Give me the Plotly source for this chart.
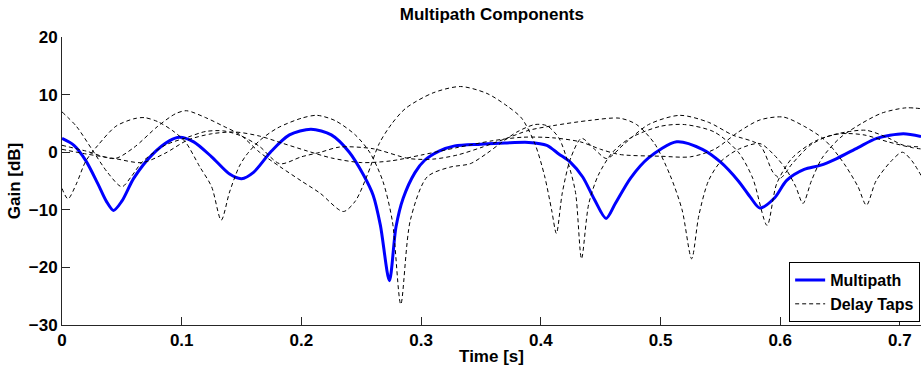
import plotly.graph_objects as go

# ---- Data ----
mp_t = [0, 0.01, 0.02, 0.03, 0.037, 0.043, 0.05, 0.06, 0.075, 0.09, 0.098, 0.11, 0.125, 0.14, 0.15, 0.16,
        0.175, 0.19, 0.208, 0.225, 0.24, 0.252, 0.26, 0.266, 0.2735, 0.279, 0.285, 0.295, 0.303, 0.315, 0.328,
        0.35, 0.37, 0.39, 0.405, 0.415, 0.425, 0.435, 0.445, 0.4545, 0.462, 0.475, 0.49, 0.5135, 0.535, 0.55,
        0.565, 0.575, 0.583, 0.595, 0.6054, 0.62, 0.6333, 0.6472, 0.665, 0.6806, 0.7028, 0.7176]
mp_db = [2.4, 1.2, -1.5, -5.5, -8.5, -10.1, -8.5, -4.5, -0.5, 2.0, 2.6, 1.8, -0.8, -3.8, -4.6, -3.5,
         0.2, 3.0, 4.0, 3.0, 0.0, -4.0, -7.5, -12.7, -22.3, -13.0, -8.0, -3.5, -1.4, 0.2, 1.1,
         1.4, 1.6, 1.7, 1.2, -0.3, -1.8, -4.3, -8.3, -11.5, -9.0, -4.5, -1.0, 1.8, 0.5, -1.7,
         -5.0, -7.8, -9.7, -8.0, -4.9, -3.0, -2.3, -1.1, 0.8, 2.4, 3.2, 2.7]

tap1_t = [0, 0.012, 0.025, 0.038, 0.05, 0.058, 0.067, 0.086, 0.105, 0.12, 0.135, 0.15, 0.165, 0.182, 0.2,
          0.216, 0.232, 0.26, 0.29, 0.31, 0.33, 0.35, 0.37, 0.39, 0.41, 0.44, 0.466, 0.48, 0.495, 0.508,
          0.518, 0.526, 0.532, 0.54, 0.55, 0.565, 0.583, 0.595, 0.605, 0.613, 0.619, 0.626, 0.635, 0.65,
          0.668, 0.685, 0.705, 0.72]
tap1_db = [7.0, 4.5, 0.5, -3.5, -6.0, -4.2, -1.7, 1.2, 2.6, 3.6, 3.7, 2.8, 1.0, -2.0, -0.8,
           0.0, 0.9, 0.6, -1.1, -1.2, -0.5, 0.8, 2.3, 3.8, 4.6, 5.5, 5.9, 4.8, 1.5, -4.0,
           -10.0, -18.5, -11.0, -5.0, -1.7, 0.5, 1.5, -0.5, -3.0, -6.0, -8.9, -5.0, -1.0, 2.5,
           5.0, 6.8, 7.7, 7.5]

tap2_t = [0, 0.02, 0.044, 0.06, 0.08, 0.095, 0.104, 0.12, 0.135, 0.149, 0.165, 0.182, 0.2, 0.2155, 0.235,
          0.245, 0.255, 0.265, 0.275, 0.287, 0.31, 0.333, 0.355, 0.372, 0.384, 0.395, 0.403, 0.409, 0.413,
          0.418, 0.425, 0.434, 0.445, 0.455, 0.47, 0.49, 0.516, 0.54, 0.56, 0.583, 0.594, 0.6, 0.61, 0.625,
          0.639, 0.655, 0.672, 0.69, 0.703, 0.72]
tap2_db = [1.2, 0.2, -1.1, 0.8, 4.5, 6.7, 7.2, 6.0, 4.5, 3.0, 0.0, -2.5, -5.0, -7.1, -10.3,
           -8.5, -4.0, 1.5, 4.8, 7.6, 10.3, 11.4, 10.2, 8.0, 5.9, 1.5, -4.0, -10.0, -14.1,
           -7.0, -1.0, 2.4, 0.5, -1.1, 1.5, 4.8, 6.4, 5.2, 3.0, 1.2, -3.5, -4.5, -2.0, 1.2,
           2.7, 3.5, 3.8, 2.5, 1.2, 0.9]

tap3_t = [0, 0.02, 0.044, 0.067, 0.086, 0.105, 0.125, 0.145, 0.165, 0.185, 0.205, 0.225, 0.25, 0.275, 0.3,
          0.33, 0.36, 0.385, 0.41, 0.433, 0.45, 0.466, 0.5, 0.525, 0.545, 0.565, 0.583, 0.6026, 0.62, 0.635,
          0.644, 0.655, 0.665, 0.672, 0.68, 0.692, 0.702, 0.71, 0.72]
tap3_db = [0.5, -0.3, -1.1, -1.8, -0.2, 2.1, 3.2, 3.5, 2.8, 1.5, 0.2, -1.0, -1.8, -1.5, -0.5,
           0.8, 2.0, 2.6, 2.5, 1.8, 0.5, -0.4, -0.7, -0.8, 0.5, 3.5, 5.6, 6.1, 4.5, 2.5,
           0.6, -2.5, -6.0, -9.2, -5.0, -1.7, 0.0, -1.5, -4.9]

tap4_t = [0, 0.005, 0.012, 0.02, 0.03, 0.045, 0.06, 0.069, 0.08, 0.092, 0.103, 0.115, 0.125, 0.133, 0.14,
          0.148, 0.154, 0.165, 0.18, 0.2, 0.213, 0.228, 0.245, 0.257, 0.268, 0.276, 0.283, 0.291, 0.305,
          0.324, 0.341, 0.355, 0.366, 0.38, 0.395, 0.405, 0.415, 0.423, 0.429, 0.434, 0.44, 0.448, 0.46,
          0.475, 0.5, 0.52, 0.545, 0.565, 0.577, 0.589, 0.597, 0.61, 0.63, 0.65, 0.67, 0.69, 0.71, 0.72]
tap4_db = [-6.3, -8.1, -5.5, -1.5, 1.2, 4.5, 5.8, 6.0, 5.3, 3.8, 1.8, -2.5, -6.0, -11.8, -6.9,
           -2.5, -0.5, 2.0, 4.2, 5.9, 6.4, 5.5, 3.0, 0.0, -5.0, -12.0, -26.4, -11.8, -4.3,
           -2.6, -2.0, -0.2, 1.5, 3.5, 4.8, 4.6, 2.5, -2.0, -7.0, -18.5, -9.0, -4.0, 0.0,
           2.5, 4.5, 4.8, 3.5, 0.0, -4.5, -12.7, -5.5, -1.0, 2.0, 3.2, 3.0, 1.8, 0.8, 0.5]

taps = [(tap1_t, tap1_db), (tap2_t, tap2_db), (tap3_t, tap3_db), (tap4_t, tap4_db)]

x_ticks = [0, 0.1, 0.2, 0.3, 0.4, 0.5, 0.6, 0.7]
x_tick_text = ["0", "0.1", "0.2", "0.3", "0.4", "0.5", "0.6", "0.7"]
y_ticks = [-30, -20, -10, 0, 10, 20]
y_tick_text = ["\u221230", "\u221220", "\u221210", "0", "10", "20"]

FONT = "Liberation Sans"
FS = 17

fig = go.Figure()
fig.add_trace(go.Scatter(x=mp_t, y=mp_db, mode="lines", name="Multipath",
                         line=dict(color="#0000ff", width=3, shape="spline", smoothing=0.8)))
for i, (tt, dd) in enumerate(taps):
    fig.add_trace(go.Scatter(x=tt, y=dd, mode="lines", name="Delay Taps",
                             legendgroup="taps", showlegend=(i == 0),
                             line=dict(color="black", width=1, dash="4px,3px",
                                       shape="spline", smoothing=0.8)))

axis_common = dict(showline=True, linecolor="#262626", linewidth=1, ticks="inside", ticklen=8,
                   tickcolor="#262626", showgrid=False, zeroline=False,
                   tickfont=dict(family=FONT, size=FS, color="black", weight="bold"))

fig.update_layout(
    width=921, height=367,
    margin=dict(l=62, r=0, t=37, b=42, autoexpand=False),
    paper_bgcolor="white", plot_bgcolor="white",
    title=dict(text="<b>Multipath Components</b>", x=0.534, xanchor="center", y=0.962, yanchor="middle",
               font=dict(family=FONT, size=FS, color="black")),
    xaxis=dict(range=[0, 0.7176], tickvals=x_ticks, ticktext=x_tick_text,
               title=dict(text="<b>Time [s]</b>", font=dict(family=FONT, size=FS, color="black"), standoff=0),
               **axis_common),
    yaxis=dict(range=[-30, 20], tickvals=y_ticks, ticktext=y_tick_text,
               title=dict(text="<b>Gain [dB]</b>", font=dict(family=FONT, size=FS, color="black"), standoff=3),
               **axis_common),
    legend=dict(x=0.999, xanchor="right", y=0.01, yanchor="bottom", bgcolor="white",
                bordercolor="black", borderwidth=1, tracegroupgap=0,
                font=dict(family=FONT, size=16, color="black", weight="bold"),
                itemwidth=30),
    showlegend=True,
)

fig.write_html("out.html")
